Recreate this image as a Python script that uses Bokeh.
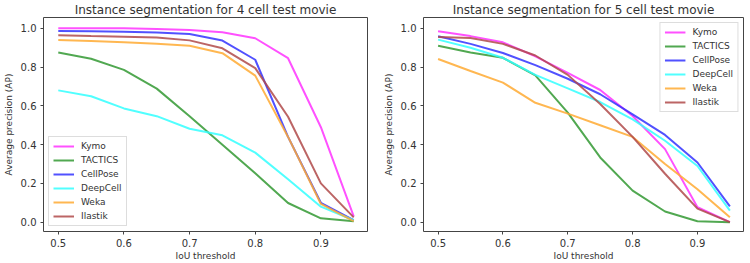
from bokeh.plotting import figure
from bokeh.layouts import row
from bokeh.models import FixedTicker, NumeralTickFormatter, Range1d
from bokeh.embed import file_html
from bokeh.resources import INLINE

iou = [0.5, 0.55, 0.6, 0.65, 0.7, 0.75, 0.8, 0.85, 0.9, 0.95]
methods = ["Kymo", "TACTICS", "CellPose", "DeepCell", "Weka", "Ilastik"]
colors = ["#ff33ff", "#339933", "#3333ff", "#33ffff", "#ffaa33", "#b04a4a"]

ap4_kymo = [1.0, 1.0, 1.0, 0.997, 0.991, 0.98, 0.949, 0.846, 0.49, 0.03]
ap4_tactics = [0.875, 0.843, 0.786, 0.689, 0.547, 0.40, 0.253, 0.099, 0.02, 0.005]
ap4_cellpose = [0.986, 0.985, 0.982, 0.978, 0.971, 0.937, 0.838, 0.44, 0.10, 0.01]
ap4_deepcell = [0.68, 0.65, 0.587, 0.547, 0.482, 0.448, 0.359, 0.222, 0.08, 0.01]
ap4_weka = [0.94, 0.935, 0.928, 0.92, 0.91, 0.872, 0.756, 0.44, 0.094, 0.005]
ap4_ilastik = [0.964, 0.96, 0.957, 0.953, 0.938, 0.897, 0.795, 0.544, 0.2, 0.025]

ap5_kymo = [0.985, 0.96, 0.928, 0.856, 0.77, 0.682, 0.548, 0.377, 0.077, 0.0]
ap5_tactics = [0.91, 0.875, 0.848, 0.757, 0.565, 0.334, 0.163, 0.055, 0.005, 0.0]
ap5_cellpose = [0.959, 0.92, 0.873, 0.81, 0.74, 0.66, 0.556, 0.45, 0.308, 0.082]
ap5_deepcell = [0.942, 0.9, 0.848, 0.76, 0.69, 0.62, 0.53, 0.42, 0.29, 0.06]
ap5_weka = [0.842, 0.78, 0.72, 0.616, 0.56, 0.50, 0.44, 0.30, 0.17, 0.025]
ap5_ilastik = [0.955, 0.95, 0.92, 0.86, 0.76, 0.61, 0.44, 0.25, 0.07, 0.0]

x_ticks = [0.5, 0.6, 0.7, 0.8, 0.9]
y_ticks = [0.0, 0.2, 0.4, 0.6, 0.8, 1.0]


def make(title, series, left, right, legend_loc):
    p = figure(width=375, height=263, output_backend="svg", toolbar_location=None,
               x_range=Range1d(0.4775, 0.971), y_range=Range1d(-0.048, 1.056),
               min_border_left=left, min_border_right=right,
               min_border_top=0, min_border_bottom=0)
    p.title.text = title
    p.title.align = "center"
    p.title.text_font = "DejaVu Sans"
    p.title.text_font_size = "12px"
    p.title.text_font_style = "normal"
    p.title.text_color = "#333333"
    p.title.text_line_height = 1.0
    p.title.offset = 0
    p.title.standoff = 1
    for name, col, ys in zip(methods, colors, series):
        p.line(iou, ys, line_color=col, line_width=2, line_alpha=0.85, legend_label=name)
    p.xgrid.visible = False
    p.ygrid.visible = False
    p.outline_line_color = "#444444"
    p.outline_line_width = 1
    for ax, ticks in ((p.xaxis[0], x_ticks), (p.yaxis[0], y_ticks)):
        ax.ticker = FixedTicker(ticks=ticks)
        ax.formatter = NumeralTickFormatter(format="0.0")
        ax.axis_line_color = None
        ax.minor_tick_line_color = None
        ax.major_tick_out = 3
        ax.major_tick_in = 0
        ax.major_tick_line_color = "#444444"
        ax.major_label_text_font = "DejaVu Sans"
        ax.major_label_text_font_size = "10px"
        ax.major_label_text_color = "#333333"
        ax.axis_label_text_font = "DejaVu Sans"
        ax.axis_label_text_font_size = "9px"
        ax.axis_label_text_font_style = "normal"
        ax.axis_label_text_color = "#333333"
        ax.major_label_standoff = 4
        ax.axis_label_standoff = 1
    p.xaxis.axis_label = "IoU threshold"
    p.yaxis.axis_label = "Average precision (AP)"
    p.yaxis.axis_label_standoff = 4
    lg = p.legend[0]
    lg.location = legend_loc
    lg.label_text_font = "DejaVu Sans"
    lg.label_text_font_size = "9px"
    lg.label_text_color = "#333333"
    lg.glyph_width = 21
    lg.glyph_height = 10
    lg.label_height = 10
    lg.label_standoff = 7
    lg.spacing = 4
    lg.padding = 4
    lg.margin = 5
    lg.border_line_color = "#dddddd"
    lg.border_line_alpha = 1
    lg.background_fill_alpha = 0.85
    return p


p1 = make("Instance segmentation for 4 cell test movie",
          [ap4_kymo, ap4_tactics, ap4_cellpose, ap4_deepcell, ap4_weka, ap4_ilastik],
          39, 8, "bottom_left")
p2 = make("Instance segmentation for 5 cell test movie",
          [ap5_kymo, ap5_tactics, ap5_cellpose, ap5_deepcell, ap5_weka, ap5_ilastik],
          48, 7, "top_right")

layout = row(p1, p2, spacing=0)
open("out.html", "w").write(file_html(layout, INLINE))
